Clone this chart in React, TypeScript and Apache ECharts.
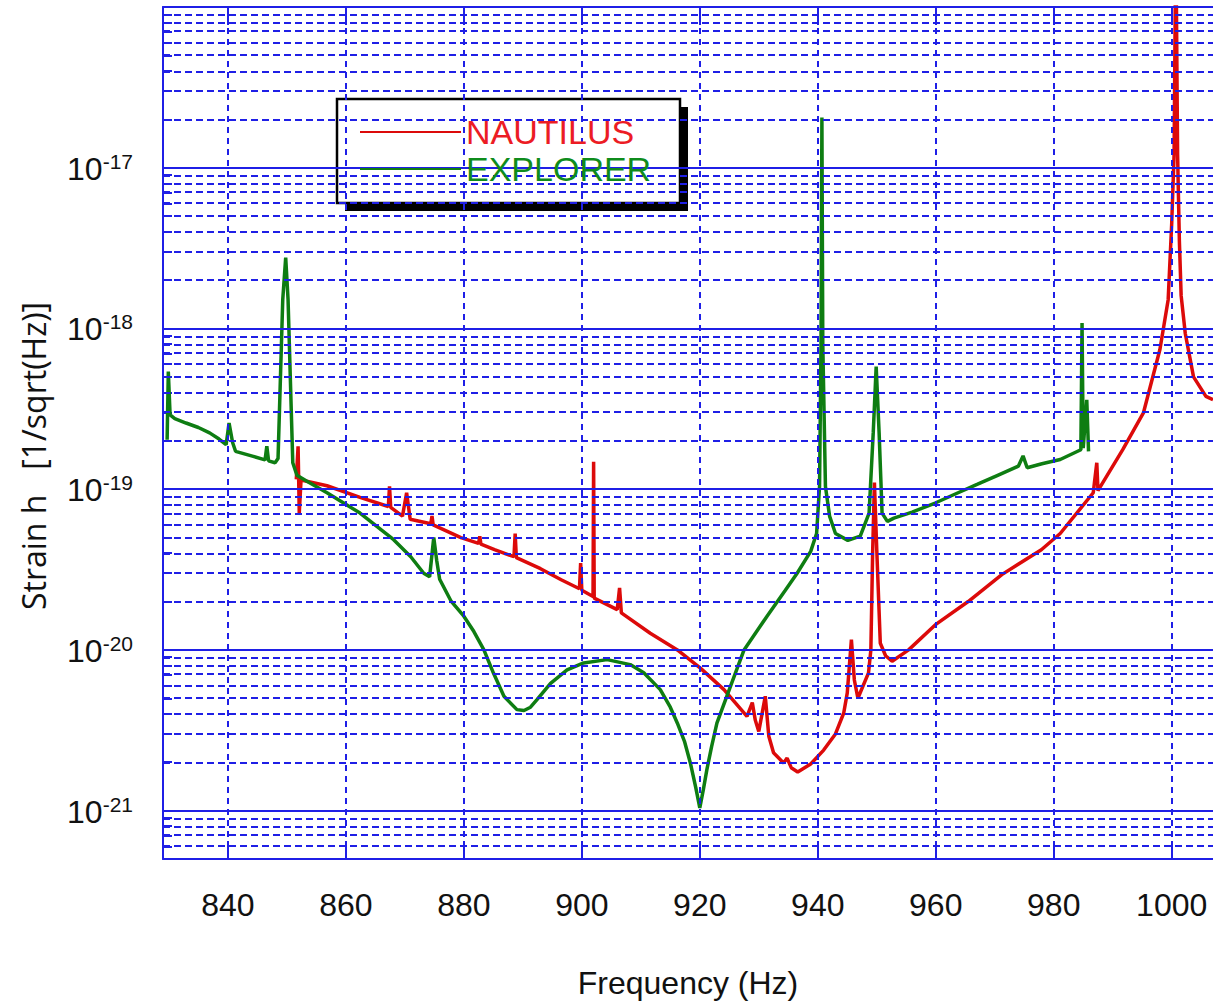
import React, { useEffect, useRef } from "react";
import * as echarts from "echarts";

// ---------- data (frequency in Hz, strain in 1/sqrt(Hz)) ----------
const seriesNames = ["NAUTILUS", "EXPLORER"];

const nautilusPoints: [number, number][] = [
  [851.6, 1.15e-19], [851.9, 1.85e-19], [852.1, 7.1e-20], [852.4, 1.14e-19],
  [856.8, 1.05e-19], [862.4, 8.9e-20], [867.2, 7.8e-20], [867.4, 1.04e-19],
  [867.6, 7.7e-20], [869.6, 6.8e-20], [870.3, 9.5e-20], [870.9, 6.5e-20],
  [874.4, 6.1e-20], [874.6, 6.8e-20], [874.8, 6.0e-20], [879.5, 5.0e-20],
  [882.5, 4.6e-20], [882.7, 5.1e-20], [882.9, 4.55e-20], [885.2, 4.2e-20],
  [888.5, 3.8e-20], [888.7, 5.3e-20], [888.9, 3.75e-20], [893.0, 3.2e-20],
  [896.5, 2.73e-20], [899.6, 2.4e-20], [899.8, 3.47e-20], [900.0, 2.35e-20],
  [901.9, 2.15e-20], [902.0, 1.48e-19], [902.1, 2.1e-20], [906.0, 1.78e-20],
  [906.4, 2.43e-20], [906.7, 1.7e-20], [911.6, 1.27e-20], [916.2, 1.0e-20],
  [920.1, 7.7e-21], [924.1, 5.66e-21], [928.0, 3.86e-21], [928.9, 4.7e-21],
  [929.4, 3.66e-21], [930.0, 3.11e-21], [931.1, 5.15e-21], [931.7, 2.9e-21],
  [932.5, 2.29e-21], [934.2, 1.98e-21], [934.8, 2.12e-21], [935.5, 1.85e-21],
  [936.6, 1.74e-21], [938.8, 1.95e-21], [941.0, 2.38e-21], [943.0, 3.0e-21],
  [944.4, 4.05e-21], [945.0, 5.4e-21], [945.7, 1.16e-20], [946.2, 6.5e-21],
  [946.8, 5.0e-21], [948.6, 7.2e-21], [949.0, 1.0e-20], [949.3, 4.0e-20],
  [949.6, 1.1e-19], [950.0, 4.2e-20], [950.6, 1.1e-20], [951.5, 9.2e-21],
  [952.6, 8.5e-21], [955.4, 1.0e-20], [959.9, 1.43e-20], [965.5, 2.0e-20],
  [971.2, 2.94e-20], [977.9, 4.2e-20], [981.1, 5.3e-20], [986.7, 9.5e-20],
  [987.3, 1.46e-19], [987.5, 9.8e-20], [991.7, 1.76e-19], [995.2, 2.98e-19],
  [998.0, 7.4e-19], [999.4, 1.51e-18], [1000.0, 4.5e-18], [1000.4, 1.2e-17],
  [1000.7, 3e-16], [1001.0, 1.2e-17], [1001.3, 3.5e-18], [1001.6, 1.6e-18],
  [1002.3, 9.3e-19], [1003.7, 5.0e-19], [1005.8, 3.78e-19], [1007.0, 3.6e-19],
];

const explorerPoints: [number, number][] = [
  [829.7, 2.03e-19], [829.9, 5.4e-19], [830.2, 2.9e-19], [831.0, 2.75e-19],
  [832.9, 2.58e-19], [835.0, 2.42e-19], [836.9, 2.24e-19], [838.5, 2.05e-19],
  [839.7, 1.89e-19], [840.2, 2.58e-19], [840.8, 1.95e-19], [841.3, 1.72e-19],
  [844.3, 1.6e-19], [846.3, 1.52e-19], [846.6, 1.85e-19], [846.9, 1.5e-19],
  [848.0, 1.46e-19], [848.5, 1.55e-19], [849.3, 1.51e-18], [849.8, 2.76e-18],
  [850.2, 1.51e-18], [851.0, 1.46e-19], [851.7, 1.22e-19], [853.4, 1.12e-19],
  [856.8, 9.5e-20], [862.4, 7.1e-20], [868.1, 4.85e-20], [871.0, 3.8e-20],
  [873.2, 3.0e-20], [874.2, 2.85e-20], [874.9, 5.0e-20], [875.4, 3.6e-20],
  [875.9, 2.75e-20], [877.8, 2.02e-20], [880.0, 1.62e-20], [881.7, 1.3e-20],
  [883.4, 1.0e-20], [885.0, 7.2e-21], [886.8, 5.15e-21], [889.0, 4.25e-21],
  [890.2, 4.2e-21], [891.3, 4.4e-21], [892.4, 4.9e-21], [894.7, 6.2e-21],
  [897.5, 7.5e-21], [900.3, 8.3e-21], [904.3, 8.7e-21], [908.2, 8.1e-21],
  [910.5, 7.2e-21], [913.3, 5.66e-21], [915.0, 4.4e-21], [916.2, 3.5e-21],
  [917.4, 2.7e-21], [918.4, 1.98e-21], [919.3, 1.4e-21], [920.0, 1.04e-21],
  [920.6, 1.35e-21], [921.2, 1.8e-21], [922.0, 2.5e-21], [922.9, 3.5e-21],
  [925.2, 5.93e-21], [927.5, 1.0e-20], [931.4, 1.62e-20], [934.5, 2.35e-20],
  [936.5, 3.0e-20], [938.8, 4.1e-20], [939.8, 5.3e-20], [940.3, 1.04e-19],
  [940.55, 8e-19], [940.7, 2.05e-17], [940.85, 8e-19], [941.3, 1.04e-19],
  [942.0, 6.8e-20], [943.0, 5.3e-20], [945.1, 4.8e-20], [947.2, 5.1e-20],
  [948.7, 7.1e-20], [949.4, 2.24e-19], [949.9, 5.8e-19], [950.4, 2.24e-19],
  [950.9, 7.1e-20], [951.8, 6.3e-20], [952.9, 6.6e-20], [956.0, 7.2e-20],
  [959.9, 8.2e-20], [963.5, 9.4e-20], [967.0, 1.07e-19], [970.5, 1.22e-19],
  [974.0, 1.39e-19], [974.8, 1.61e-19], [975.5, 1.36e-19], [978.0, 1.44e-19],
  [981.1, 1.53e-19], [984.6, 1.76e-19], [984.8, 1.08e-18], [985.0, 1.8e-19],
  [985.6, 3.6e-19], [985.9, 1.72e-19],
];

const xTickLabels = [840, 860, 880, 900, 920, 940, 960, 980, 1000];
const yDecadeLabels = [-21, -20, -19, -18, -17];
const yMajorDecades = [-21, -20, -19, -18, -17, -16];
const minorMultipliers = [2, 3, 4, 5, 6, 7, 8, 9];

const X_MIN = 829;
const X_MAX = 1007;
const STRAIN_MIN = 5e-22;
const STRAIN_MAX = 1e-16;

// ---------- styles ----------
const BLUE = "#1f1fe6";
const RED = "#dc0a0a";
const GREEN = "#0e7d12";
const RED_TEXT = "#ec1c24";
const GREEN_TEXT = "#0f8c1c";
const LABEL_FONT = "'Liberation Sans', Arial, sans-serif";
const TITLE_FONT = "'Open Sans', 'Noto Sans', sans-serif";

export default function App() {
  const ref = useRef<HTMLDivElement>(null);

  useEffect(() => {
    if (!ref.current) return;
    const chart = echarts.init(ref.current, undefined, { renderer: "svg" });

    const yMin = Math.log10(STRAIN_MIN);
    const yMax = Math.log10(STRAIN_MAX);

    const minorValues: number[] = [];
    for (let n = -22; n <= -17; n++) {
      for (const k of minorMultipliers) {
        const v = n + Math.log10(k);
        if (v > yMin + 1e-6 && v < yMax - 1e-6) minorValues.push(v);
      }
    }
    const tickValues = [...yMajorDecades, ...minorValues].filter(
      (v) => v >= yMin - 1e-9 && v <= yMax + 1e-9
    );

    const gridLines: any[] = [];
    yMajorDecades.forEach((v) =>
      gridLines.push({ yAxis: v, lineStyle: { color: BLUE, width: 2, type: "solid" } })
    );
    minorValues.forEach((v) =>
      gridLines.push({ yAxis: v, lineStyle: { color: BLUE, width: 2, type: [7, 4] } })
    );
    xTickLabels.forEach((v) =>
      gridLines.push({ xAxis: v, lineStyle: { color: BLUE, width: 2, type: [6, 5] } })
    );

    const toLog = (pts: [number, number][]) => pts.map(([f, s]) => [f, Math.log10(s)]);

    const xAxisCommon = {
      type: "value",
      min: X_MIN,
      max: X_MAX,
      splitNumber: 9,
      axisLine: { show: true, onZero: false, lineStyle: { color: BLUE, width: 2 } },
      axisTick: {
        show: true,
        inside: true,
        length: 18,
        customValues: xTickLabels,
        lineStyle: { color: BLUE, width: 2 },
      },
      splitLine: { show: false },
    };

    const option: any = {
      animation: false,
      backgroundColor: "#ffffff",
      grid: { left: 163, right: 0, top: 7, bottom: 147, containLabel: false },
      legend: {
        data: [
          { name: seriesNames[0], textStyle: { color: RED_TEXT } },
          { name: seriesNames[1], textStyle: { color: GREEN_TEXT } },
        ],
        orient: "vertical",
        left: 360,
        top: 114,
        padding: 0,
        itemWidth: 101,
        itemHeight: 2,
        itemGap: 1,
        icon: "rect",
        selectedMode: false,
        z: 10,
        textStyle: { fontSize: 34, fontFamily: LABEL_FONT, lineHeight: 36 },
      },
      graphic: [
        {
          type: "rect",
          z: 4,
          silent: true,
          shape: { x: 345, y: 107, width: 343, height: 104 },
          style: { fill: "#000000" },
        },
        {
          type: "rect",
          z: 5,
          silent: true,
          shape: { x: 337, y: 99, width: 343, height: 104 },
          style: { fill: "#ffffff", stroke: "#000000", lineWidth: 2.5 },
        },
      ],
      xAxis: [
        {
          ...xAxisCommon,
          position: "bottom",
          axisLabel: {
            show: true,
            customValues: xTickLabels,
            margin: 30,
            fontSize: 32,
            lineHeight: 32,
            fontFamily: LABEL_FONT,
            color: "#111111",
            formatter: (v: number) => String(Math.round(v)),
          },
          name: "Frequency (Hz)",
          nameLocation: "middle",
          nameGap: 108,
          nameTextStyle: { fontSize: 32, lineHeight: 32, fontFamily: LABEL_FONT, color: "#111111" },
        },
        {
          ...xAxisCommon,
          position: "top",
          axisLabel: { show: false },
        },
      ],
      yAxis: {
        type: "value",
        min: yMin,
        max: yMax,
        axisLine: { show: true, onZero: false, lineStyle: { color: BLUE, width: 2 } },
        axisTick: {
          show: true,
          inside: true,
          length: 9,
          customValues: tickValues,
          lineStyle: { color: BLUE, width: 2 },
        },
        splitLine: { show: false },
        axisLabel: {
          show: true,
          customValues: yDecadeLabels,
          margin: 30,
          formatter: (v: number) => {
            const n = Math.round(v);
            if (Math.abs(v - n) > 1e-6 || n === -16) return "";
            return `{b|10}{s|${n}}`;
          },
          rich: {
            b: {
              fontSize: 32,
              lineHeight: 34,
              fontFamily: LABEL_FONT,
              color: "#111111",
              verticalAlign: "bottom",
            },
            s: {
              fontSize: 21,
              lineHeight: 21,
              fontFamily: LABEL_FONT,
              color: "#111111",
              verticalAlign: "top",
              padding: [0, 0, 22, 0],
            },
          },
        },
        name: "Strain h\u00a0\u00a0\u00a0[1/sqrt(Hz)]",
        nameLocation: "middle",
        nameGap: 114,
        nameTextStyle: {
          fontSize: 32,
          lineHeight: 32,
          fontFamily: TITLE_FONT,
          color: "#111111",
          padding: [0, 46, 0, 0],
        },
      },
      series: [
        {
          name: "grid",
          type: "line",
          data: [],
          z: 1,
          silent: true,
          markLine: {
            silent: true,
            symbol: ["none", "none"],
            label: { show: false },
            animation: false,
            data: gridLines,
          },
        },
        {
          name: seriesNames[0],
          type: "line",
          data: toLog(nautilusPoints),
          showSymbol: false,
          symbol: "none",
          z: 3,
          clip: true,
          lineStyle: { color: RED, width: 3.5 },
          itemStyle: { color: RED },
        },
        {
          name: seriesNames[1],
          type: "line",
          data: toLog(explorerPoints),
          showSymbol: false,
          symbol: "none",
          z: 3,
          clip: true,
          lineStyle: { color: GREEN, width: 3.5 },
          itemStyle: { color: GREEN },
        },
      ],
    };

    chart.setOption(option);
    return () => chart.dispose();
  }, []);

  return (
    <div
      ref={ref}
      style={{
        position: "fixed",
        left: 0,
        top: 0,
        width: 1213,
        height: 1006,
        background: "#ffffff",
      }}
    />
  );
}
